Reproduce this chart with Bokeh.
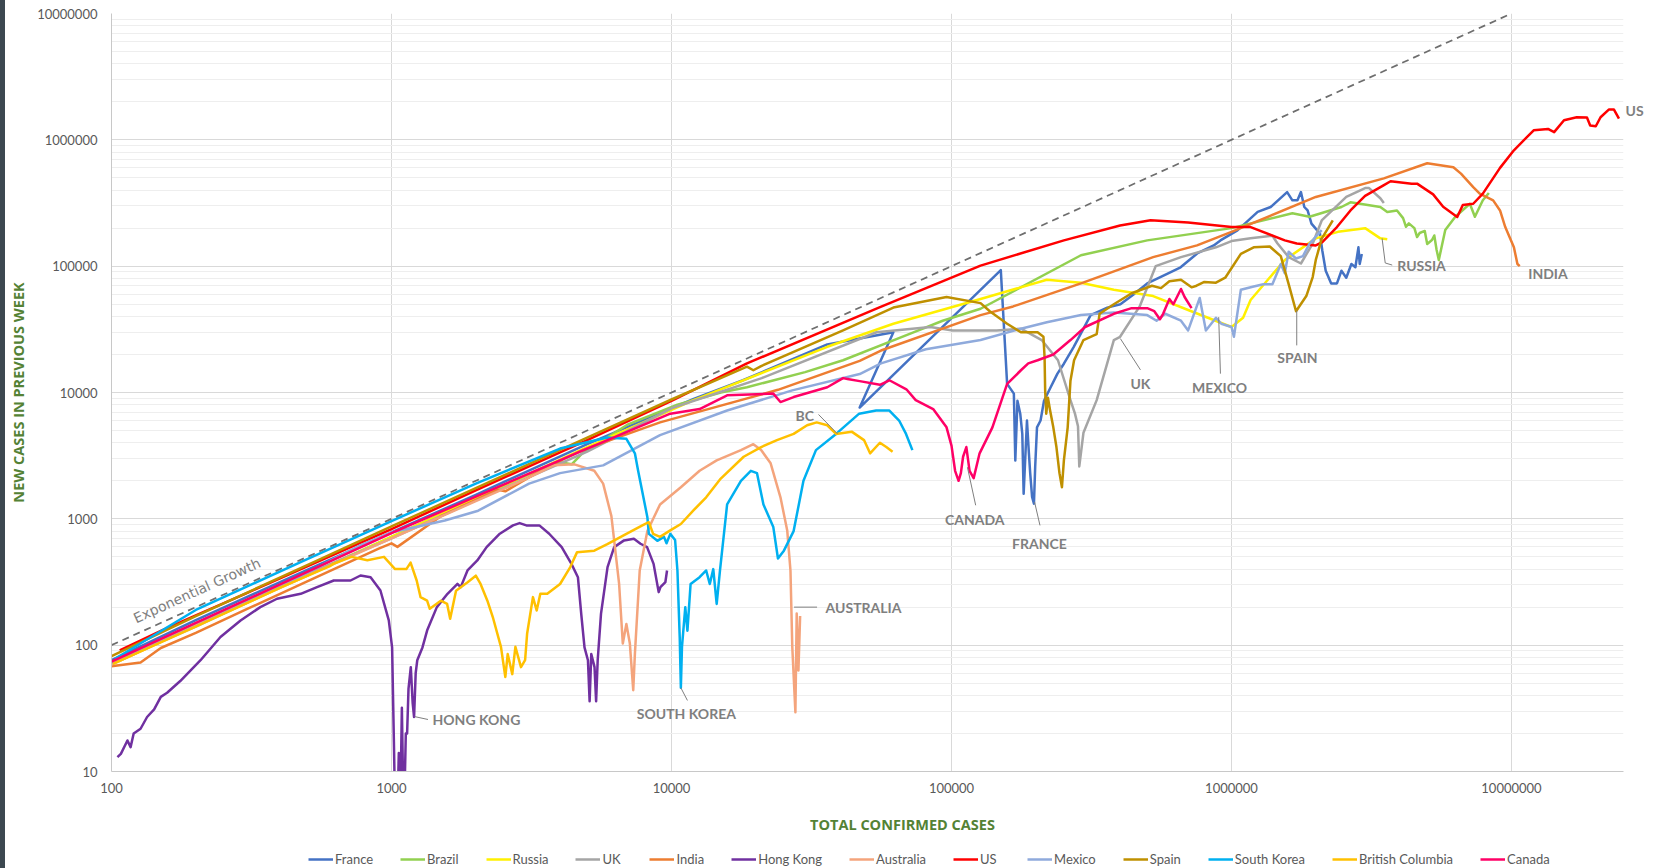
from bokeh.plotting import figure
from bokeh.layouts import column, row
from bokeh.models import FixedTicker, Range1d, Legend, LegendItem, Label, LogAxis, Div
from bokeh.embed import file_html
from bokeh.resources import INLINE

# ---------------- data (total confirmed cases, new cases in previous week) ----------------
france_x = [100, 200, 500, 1000, 2000, 5000, 12000, 18000, 36000, 62000, 47000, 150000, 158000, 167000, 169000, 172000,
            176000, 179000, 181000, 186000, 189000, 191000, 194000, 197000, 199000, 202000, 208000, 214000, 226000,
            239000, 252000, 273000, 289000, 314000, 360000, 401000, 448000, 500000, 589000, 658000, 754000, 864000,
            913000, 1050000, 1240000, 1380000, 1580000, 1650000, 1720000, 1770000, 1820000, 1870000, 1930000, 2070000,
            2110000, 2170000, 2270000, 2380000, 2470000, 2570000, 2680000, 2770000, 2840000, 2870000, 2920000]
france_y = [76, 158, 395, 780, 1550, 3900, 8900, 12500, 24000, 30000, 7600, 93000, 11700, 9800, 2900, 8600,
            6800, 4700, 1580, 6000, 3300, 2300, 1490, 1320, 2570, 5300, 6000, 8600, 11000,
            14100, 16900, 22900, 29000, 41000, 47000, 50000, 60000, 73000, 87000, 98000, 126000, 146000,
            160000, 192000, 269000, 294000, 386000, 332000, 332000, 386000, 294000, 276000, 217000, 181000,
            133000, 92000, 73000, 73000, 92000, 81000, 104000, 98000, 141000, 104000, 125000]

brazil_x = [100, 200, 500, 1000, 2000, 3500, 4000, 4400, 4800, 7000, 10500, 15000, 18600, 30000, 41000, 72000, 93000,
            127000, 290000, 500000, 1000000, 1650000, 1900000, 2470000, 2660000, 3400000, 3600000, 3900000, 4100000,
            4200000, 4300000, 4500000, 4600000, 4700000, 4900000, 5000000, 5200000, 5300000, 5400000, 5500000,
            5800000, 6300000, 7100000, 7400000, 7900000, 8300000]
brazil_y = [72, 146, 360, 720, 1450, 2550, 2800, 2700, 3300, 5600, 8000, 10000, 11000, 14500, 18000, 29500, 37000,
            46000, 122000, 160000, 200000, 262000, 246000, 294000, 320000, 294000, 268000, 276000, 240000,
            205000, 218000, 200000, 170000, 183000, 190000, 150000, 161000, 175000, 135000, 112000,
            193000, 246000, 312000, 246000, 332000, 380000]

russia_x = [100, 200, 500, 1000, 2000, 5000, 12000, 36000, 62000, 127000, 219000, 290000, 380000, 525000, 700000,
            1000000, 1100000, 1170000, 1550000, 2000000, 2400000, 3000000, 3400000, 3600000]
russia_y = [70, 142, 355, 720, 1450, 3700, 8700, 23000, 35000, 55000, 78000, 74000, 65000, 58000, 45000,
            33000, 39000, 54000, 112000, 166000, 187000, 200000, 166000, 163000]

uk_x = [100, 200, 500, 1000, 2000, 5000, 10000, 21000, 54000, 84000, 101000, 145000, 177000, 210000, 240000, 266000,
        276000, 283000, 286000, 296000, 330000, 380000, 400000, 470000, 536000, 660000, 880000, 1000000, 1170000,
        1400000, 1460000, 1600000, 1770000, 1950000, 2100000, 2570000, 3000000, 3100000, 3400000, 3500000]
uk_y = [72, 148, 365, 700, 1400, 3400, 7500, 13000, 30000, 33000, 31000, 31000, 32000, 26000, 18000, 8700,
        6800, 5400, 2600, 4800, 8700, 26000, 27600, 48000, 100000, 118000, 141000, 158000, 166000,
        174000, 151000, 118000, 105000, 151000, 230000, 353000, 415000, 415000, 345000, 316000]

india_x = [100, 127, 150, 200, 300, 500, 900, 1000, 1050, 1500, 2400, 2550, 3500, 4800, 9100, 24000, 47000, 56000,
           127000, 166000, 290000, 525000, 753000, 1000000, 2000000, 3500000, 5000000, 6200000, 6600000, 7300000,
           7700000, 8600000, 9100000, 9500000, 10200000, 10500000, 10700000]
india_y = [68, 73, 95, 125, 190, 320, 580, 640, 600, 1050, 1700, 1650, 2500, 3500, 5800, 10500, 17800, 21500,
           41000, 48000, 73000, 118000, 146000, 187000, 353000, 495000, 653000, 606000, 540000, 423000,
           375000, 332000, 276000, 204000, 141000, 104000, 100000]

hk_x = [105, 108, 114, 117, 120, 127, 134, 142, 150, 158, 176, 208, 245, 289, 340, 390, 474, 542, 622, 714, 775, 842,
        913, 978, 1005, 1020, 1030, 1050, 1062, 1075, 1089, 1100, 1110, 1125, 1137, 1150, 1172, 1190, 1204, 1220,
        1236, 1290, 1341, 1452, 1585, 1720, 1767, 1868, 2025, 2186, 2437, 2716, 2868, 3032, 3373, 3657, 4054, 4392,
        4632, 4760, 4890, 5030, 5100, 5170, 5310, 5380, 5450, 5600, 5910, 6240, 6770, 7340, 7750, 8180, 8630, 9000,
        9130, 9510, 9640]
hk_y = [13, 13.8, 17.6, 15.6, 20, 21.8, 27, 31, 39, 42, 52, 76, 116, 157, 200, 233, 255, 288, 325, 325, 356, 345,
        271, 157, 96, 17, 5, 5, 14, 5, 32, 8, 5, 20, 20, 45, 67, 35, 27, 60,
        76, 96, 131, 200, 255, 306, 288, 390, 468, 597, 762, 887, 925, 887, 887, 762, 597, 440,
        345, 177, 96, 76, 36, 85, 67, 36, 76, 177, 415, 597, 675, 696, 635, 597, 440, 263,
        288, 316, 390]

aus_x = [100, 200, 500, 1000, 2000, 3000, 3800, 4500, 5300, 5700, 6100, 6500, 6700, 6900, 7100, 7300, 7400, 7700,
         8200, 9100, 10800, 12600, 14500, 17700, 19600, 20900, 22600, 24500, 25900, 26600, 27000, 27700, 28000,
         28400, 28800]
aus_y = [70, 143, 355, 700, 1380, 2050, 2650, 2700, 2400, 1900, 1050, 305, 103, 147, 103, 44, 85, 390,
         800, 1300, 1780, 2400, 2900, 3500, 3900, 3500, 2750, 1480, 810, 390, 97, 29.5, 178,
         63, 170]

us_x = [107, 150, 200, 300, 500, 1000, 2000, 5000, 10000, 18600, 55000, 127000, 252000, 400000, 514000, 700000,
        1000000, 1170000, 1550000, 1710000, 2000000, 2110000, 2380000, 2660000, 3000000, 3490000, 3700000, 4400000,
        4600000, 5250000, 5700000, 6400000, 6700000, 7300000, 7900000, 9100000, 10200000, 12000000, 13500000,
        14200000, 15400000, 17100000, 18600000, 19100000, 20000000, 20800000, 22300000, 23200000, 24200000]
us_y = [91, 130, 172, 255, 420, 830, 1680, 4200, 8600, 17000, 47000, 101000, 160000, 210000, 231000, 222000,
        204000, 204000, 160000, 151000, 146000, 155000, 204000, 276000, 360000, 436000, 470000, 450000,
        450000, 370000, 295000, 245000, 305000, 312000, 375000, 600000, 827000, 1190000, 1220000,
        1150000, 1430000, 1510000, 1500000, 1300000, 1280000, 1510000, 1740000, 1740000, 1470000]

mex_x = [100, 200, 400, 776, 1000, 1550, 2040, 3100, 4000, 5700, 9100, 15800, 27000, 47000, 56000, 81000, 127000,
         177000, 219000, 290000, 380000, 500000, 540000, 580000, 660000, 700000, 770000, 810000, 880000, 920000,
         1000000, 1020000, 1080000, 1200000, 1300000, 1400000, 1500000, 1550000, 1600000, 1700000, 1800000,
         1900000, 2100000]
mex_y = [72, 140, 290, 620, 780, 970, 1160, 1900, 2300, 2650, 4600, 7200, 10400, 14000, 17000, 22000, 26000,
         32000, 36000, 41000, 43000, 41000, 37000, 42000, 37000, 31000, 56000, 31000, 39000, 35000,
         33000, 27600, 65000, 69000, 72000, 72000, 104000, 88000, 130000, 115000, 120000,
         151000, 193000]

spain_x = [100, 200, 500, 1000, 2000, 5000, 10000, 18600, 19600, 20900, 41000, 62000, 96000, 127000, 137000, 158000,
           177000, 203000, 213000, 215000, 216000, 218000, 221000, 225000, 231000, 237000, 243000, 248000, 252000,
           260000, 266000, 274000, 296000, 330000, 338000, 380000, 440000, 520000, 560000, 600000, 660000, 720000,
           750000, 800000, 880000, 950000, 1080000, 1200000, 1370000, 1500000, 1600000, 1700000, 1850000, 1950000,
           2000000, 2100000, 2300000]
spain_y = [82, 170, 430, 870, 1750, 4400, 8800, 16000, 15000, 16200, 31000, 47000, 57000, 51000, 44000, 35000,
           30000, 30000, 27600, 19000, 10400, 6800, 9100, 7200, 5300, 3700, 2300, 1780, 2900,
           5300, 12400, 18000, 26000, 29000, 42000, 50000, 61000, 70000, 67000, 76000, 78000, 68000,
           70000, 75000, 74000, 81000, 125000, 141000, 143000, 120000, 72000, 44000, 58000, 82000,
           112000, 165000, 230000]

sk_x = [103, 200, 500, 1000, 2000, 4000, 5900, 6900, 7400, 7600, 8200, 8300, 8900, 9400, 9600, 9900, 10300, 10500,
        10700, 10800, 10900, 11200, 11400, 11700, 12600, 13300, 13700, 14100, 14500, 14900, 15800, 17700, 19200,
        20200, 21300, 23100, 24000, 25200, 27300, 29600, 32800, 38700, 46800, 53800, 60000, 65000, 68800, 72500]
sk_y = [78, 190, 480, 960, 1900, 3600, 4400, 4300, 3300, 2400, 1030, 760, 670, 720, 640, 760, 680, 390,
        115, 46, 97, 200, 130, 305, 345, 390, 305, 400, 212, 390, 1300, 2000, 2400,
        2300, 1300, 860, 485, 560, 800, 2000, 3500, 4700, 6800, 7200, 7200, 6000, 4700, 3500]

bc_x = [101, 200, 400, 600, 620, 720, 820, 940, 1030, 1130, 1170, 1230, 1270, 1340, 1370, 1500, 1580, 1620, 1700,
        1870, 2000, 2080, 2200, 2300, 2460, 2550, 2600, 2700, 2770, 2900, 3000, 3050, 3200, 3300, 3400, 3600, 4000,
        4350, 4600, 5300, 5900, 6900, 7900, 8300, 8600, 9100, 9900, 10800, 12000, 13300, 14900, 18100, 20900, 23800,
        27300, 30500, 33000, 36000, 38700, 44000, 48700, 51200, 55500, 58500, 61600]
bc_y = [71, 140, 285, 420, 440, 500, 470, 500, 400, 400, 450, 325, 240, 225, 194, 225, 212, 162, 270,
        315, 355, 305, 225, 167, 97, 56, 85, 59, 97, 67, 76, 123, 240, 188, 255, 255, 305,
        415, 545, 560, 630, 760, 890, 940, 760, 720, 810, 910, 1170, 1480, 2050, 3100, 3700, 4200,
        4700, 5500, 5800, 5500, 4700, 4900, 4200, 3300, 4000, 3700, 3400]

can_x = [100, 200, 500, 1000, 2000, 5000, 9900, 12600, 15800, 23100, 24500, 27300, 36000, 41000, 42500, 47000, 55500,
         60000, 69000, 74500, 86000, 96000, 100000, 103000, 106000, 108000, 110000, 113000, 116000, 120000, 126000,
         140000, 158000, 177000, 188000, 203000, 231000, 266000, 300000, 380000, 440000, 500000, 530000, 555000,
         570000, 600000, 620000, 660000, 680000, 720000]
can_y = [74, 150, 380, 770, 1500, 3600, 6800, 7400, 9500, 9800, 8400, 9200, 11000, 13000, 12800, 12300, 11500,
         12500, 10600, 8700, 7400, 5300, 3800, 2400, 2000, 2300, 3100, 3700, 2400, 2100, 3300,
         5300, 11700, 15000, 17000, 18000, 20000, 26000, 33000, 42000, 46500, 46500, 44000, 38000,
         42000, 55000, 50000, 66000, 57000, 46500]

exp_x = [100, 10000000]
exp_y = [100, 10000000]

series_names = ["France", "Brazil", "Russia", "UK", "India", "Hong Kong", "Australia", "US", "Mexico", "Spain",
                "South Korea", "British Columbia", "Canada"]
series_colors = ["#4472C4", "#92D050", "#FFF000", "#A5A5A5", "#ED7D31", "#7030A0", "#F4A47C", "#FF0000",
                 "#8FAADC", "#BF9000", "#00B0F0", "#FFC000", "#FF0066"]
series_x = [france_x, brazil_x, russia_x, uk_x, india_x, hk_x, aus_x, us_x, mex_x, spain_x, sk_x, bc_x, can_x]
series_y = [france_y, brazil_y, russia_y, uk_y, india_y, hk_y, aus_y, us_y, mex_y, spain_y, sk_y, bc_y, can_y]

x_ticks = [100, 1000, 10000, 100000, 1000000, 10000000]
x_tick_labels = ["100", "1000", "10000", "100000", "1000000", "10000000"]
y_ticks = [10, 100, 1000, 10000, 100000, 1000000, 10000000]
y_tick_labels = ["10", "100", "1000", "10000", "100000", "1000000", "10000000"]

# country annotations inside the plot: text, x, y (data coordinates)
ann_text = ["INDIA", "RUSSIA", "SPAIN", "MEXICO", "UK", "CANADA", "FRANCE", "AUSTRALIA", "SOUTH KOREA",
            "HONG KONG", "BC"]
ann_x = [13500000, 4770000, 1720000, 906000, 473000, 121000, 206000, 48500, 11300, 2010, 29900]
ann_y = [87700, 101000, 19000, 11000, 11800, 990, 638, 200, 28.8, 25.8, 6600]
# label just beyond the right edge of the plot, at the end of the US line
us_label_y = 1710000
us_label = "US"

leader_xs = [[3450000, 3540000, 3750000], [1710000, 1710000], [900000, 913000], [401000, 473000],
             [114000, 122000], [198000, 207000], [27400, 33100], [10800, 11400], [1210, 1350], [33500, 39200]]
leader_ys = [[166000, 106000, 102000], [44500, 23600], [39500, 14100], [26700, 15100],
             [2560, 1280], [1360, 887], [200, 200], [46, 36.5], [27.2, 25.8], [6700, 4700]]

# ---------------- main chart ----------------
p = figure(width=1651, height=799, x_axis_type="log", y_axis_type="log",
           x_range=Range1d(100, 25118864), y_range=Range1d(10, 10000000),
           output_backend="svg", toolbar_location=None,
           min_border_left=106, min_border_right=33, min_border_top=13, min_border_bottom=28)
p.outline_line_color = None
p.background_fill_color = "white"
p.border_fill_color = "white"

y_minor = [m * d for d in [10, 100, 1000, 10000, 100000, 1000000] for m in range(2, 10)]
xt = FixedTicker(ticks=x_ticks)
yt = FixedTicker(ticks=y_ticks, minor_ticks=y_minor)
p.xaxis.ticker = xt
p.yaxis.ticker = yt
p.xgrid.ticker = xt
p.ygrid.ticker = yt
p.xaxis.major_label_overrides = {t: s for t, s in zip(x_ticks, x_tick_labels)}
p.yaxis.major_label_overrides = {t: s for t, s in zip(y_ticks, y_tick_labels)}

for ax in (p.xaxis, p.yaxis):
    ax.axis_line_color = "#C8C8C8"
    ax.major_tick_line_color = None
    ax.minor_tick_line_color = None
    ax.major_tick_out = 0
    ax.major_tick_in = 0
    ax.minor_tick_out = 0
    ax.minor_tick_in = 0
    ax.major_label_text_font = "Lato"
    ax.major_label_text_font_size = "13px"
    ax.major_label_text_color = "#595959"
p.xaxis.major_label_standoff = 11
p.yaxis.major_label_standoff = 14

p.yaxis.axis_label = "NEW CASES IN PREVIOUS WEEK"
p.yaxis.axis_label_standoff = 6
p.yaxis.axis_label_text_font = "Open Sans"
p.yaxis.axis_label_text_font_style = "bold"
p.yaxis.axis_label_text_font_size = "14.5px"
p.yaxis.axis_label_text_color = "#548235"

p.xgrid.grid_line_color = "#D9D9D9"
p.ygrid.grid_line_color = "#D9D9D9"
p.ygrid.minor_grid_line_color = "#EEEEEE"

for xs, ys, col in zip(series_x, series_y, series_colors):
    p.line(xs, ys, line_color=col, line_width=2.5, line_join="round")

p.line(exp_x, exp_y, line_color="#6E6E6E", line_width=1.75, line_dash="7 5")
p.multi_line(leader_xs, leader_ys, line_color="#7F7F7F", line_width=1)

for t, x, y in zip(ann_text, ann_x, ann_y):
    p.add_layout(Label(x=x, y=y, text=t, text_align="center", text_baseline="middle",
                       text_font="Lato", text_font_style="bold", text_font_size="14px",
                       text_color="#7F7F7F"))

p.add_layout(Label(x=202, y=271, text="Exponential Growth", angle=24.3, angle_units="deg",
                   text_align="center", text_baseline="middle", text_font="DejaVu Sans",
                   text_font_size="14px", text_color="#808080"))

us_axis = LogAxis(ticker=FixedTicker(ticks=[us_label_y]), major_label_overrides={us_label_y: us_label},
                  axis_line_color=None, major_tick_line_color=None, minor_tick_line_color=None,
                  major_tick_out=0, major_tick_in=0, minor_tick_out=0, minor_tick_in=0,
                  major_label_standoff=2, major_label_text_font="Lato", major_label_text_font_style="bold",
                  major_label_text_font_size="14px", major_label_text_color="#7F7F7F")
p.add_layout(us_axis, "right")

# ---------------- strip below: x axis title and legend ----------------
p2 = figure(width=1651, height=69, x_range=Range1d(0, 1), y_range=Range1d(0, 1),
            x_axis_location=None, y_axis_location=None, output_backend="svg", toolbar_location=None,
            min_border_left=106, min_border_right=33, min_border_top=0, min_border_bottom=0)
p2.outline_line_color = None
p2.grid.visible = False
p2.background_fill_color = "white"
p2.border_fill_color = "white"

p2.add_layout(Label(x=791, y=44, x_units="screen", y_units="screen", text="TOTAL CONFIRMED CASES",
                    text_align="center", text_baseline="middle", text_font="Open Sans",
                    text_font_style="bold", text_font_size="14.5px", text_color="#548235"))

items = []
for name, col in zip(series_names, series_colors):
    r = p2.line(x=[float("nan")], y=[float("nan")], line_color=col, line_width=2.5)
    items.append(LegendItem(label=name, renderers=[r]))

legend = Legend(items=items, orientation="horizontal", location=(197, 1),
                glyph_width=25, glyph_height=12, label_standoff=2, spacing=27,
                padding=0, margin=0, border_line_color=None, background_fill_alpha=0,
                label_text_font="Lato", label_text_font_size="13px", label_text_color="#595959")
p2.add_layout(legend)

# dark window edge on the left side of the original screenshot
edge = Div(text="", width=5, height=868, margin=0, styles={"background-color": "#3C4850"})

page = row(edge, column(p, p2, spacing=0), spacing=0)
open("out.html", "w").write(file_html(page, INLINE))
